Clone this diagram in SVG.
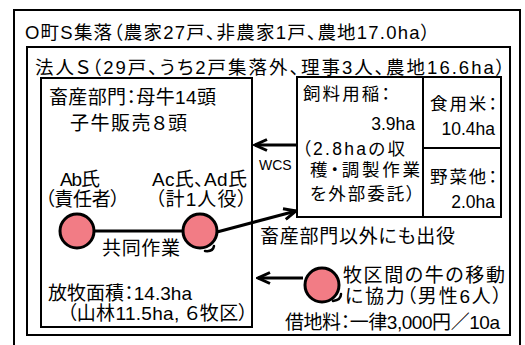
<svg xmlns="http://www.w3.org/2000/svg" width="525" height="345" viewBox="0 0 525 345">
<style>
text{font-family:"Liberation Sans","Noto Sans CJK JP",sans-serif;font-feature-settings:"palt" 1;fill:#000}
.box{fill:none;stroke:#000;stroke-width:2}
.t{font-size:19px}
.f{font-size:17.5px}
.h{font-size:18.5px}
.s{font-size:14px}
.p{fill:#F27C85;stroke:#000;stroke-width:3}
.c{fill:none;stroke:#000;stroke-width:3}
.k{fill:none;stroke:#000;stroke-width:2.5;stroke-linecap:round}
</style>
<defs>
<marker id="ah" viewBox="0 0 16 14" refX="14" refY="7" markerWidth="16" markerHeight="14" orient="auto" markerUnits="userSpaceOnUse">
<polyline points="2,1.5 14,7 2,12.5" fill="none" stroke="#000" stroke-width="3"/>
</marker>
</defs>
<rect width="525" height="345" fill="#fff"/>
<g id="settlement">
<rect class="box" x="14" y="10" width="506" height="345"/>
<text class="h" x="25" y="39" textLength="405">O町S集落（農家27戸、非農家1戸、農地17.0ha）</text>
</g>
<g id="corporation">
<rect class="box" x="27" y="47" width="483" height="288"/>
<text class="h" x="35" y="74" textLength="470">法人Ｓ（29戸、うち2戸集落外、理事3人、農地16.6ha）</text>
</g>
<g id="livestock">
<rect class="box" x="41" y="78" width="211" height="249"/>
<text class="t" x="49" y="104" textLength="167">畜産部門：母牛14頭</text>
<text class="t" x="70" y="130" textLength="117">子牛販売８頭</text>
<text class="t" x="48" y="300" textLength="144">放牧面積：14.3ha</text>
<text class="t" x="67" y="320" textLength="181">（山林11.5ha, ６牧区）</text>
</g>
<g id="feed-rice">
<rect class="box" x="297" y="77" width="126" height="140"/>
<text class="f" x="303" y="100" textLength="87">飼料用稲：</text>
<text class="f" x="415" y="130" text-anchor="end">3.9ha</text>
<text class="f" x="302" y="155" textLength="103">（2.8haの収</text>
<text class="f" x="310" y="176" textLength="110">穫・調製作業</text>
<text class="f" x="310" y="200" textLength="105">を外部委託）</text>
</g>
<g id="table-rice">
<rect class="box" x="423" y="77" width="78" height="71"/>
<text class="f" x="430" y="110" textLength="67">食用米：</text>
<text class="f" x="495" y="135" text-anchor="end">10.4ha</text>
</g>
<g id="vegetables">
<rect class="box" x="423" y="148" width="78" height="69"/>
<text class="f" x="430" y="183" textLength="67">野菜他：</text>
<text class="f" x="495" y="208" text-anchor="end">2.0ha</text>
</g>
<g id="person-ab">
<text class="t" x="60" y="186" textLength="40">Ab氏</text>
<text class="t" x="45" y="206" textLength="75">（責任者）</text>
<circle class="p" cx="77" cy="231" r="17"/>
</g>
<g id="person-ac">
<text class="t" x="152" y="186" textLength="95">Ac氏、Ad氏</text>
<text class="t" x="155" y="206" textLength="92">（計1人役）</text>
<circle class="p" cx="200" cy="231" r="17"/>
<path class="k" d="M205,251 Q213,252 214,246"/>
</g>
<g id="helpers">
<circle class="p" cx="322" cy="285" r="17"/>
<path class="k" d="M333,301 Q341,300 341,294"/>
<text class="t" x="343" y="282" textLength="162">牧区間の牛の移動</text>
<text class="t" x="345" y="303" textLength="157">に協力（男性6人）</text>
<text class="t" x="285" y="329" textLength="215">借地料：一律3,000円／10a</text>
</g>
<g id="connectors">
<line class="c" x1="94" y1="231" x2="183" y2="231"/>
<text class="t" x="102" y="255" textLength="78">共同作業</text>
<line class="c" x1="297" y1="145" x2="255" y2="145" marker-end="url(#ah)"/>
<text class="s" x="259" y="170">WCS</text>
<line class="c" x1="217" y1="232" x2="296" y2="211" marker-end="url(#ah)"/>
<text class="t" x="260" y="243" textLength="195">畜産部門以外にも出役</text>
<line class="c" x1="303" y1="278" x2="258" y2="278" marker-end="url(#ah)"/>
</g>
</svg>
